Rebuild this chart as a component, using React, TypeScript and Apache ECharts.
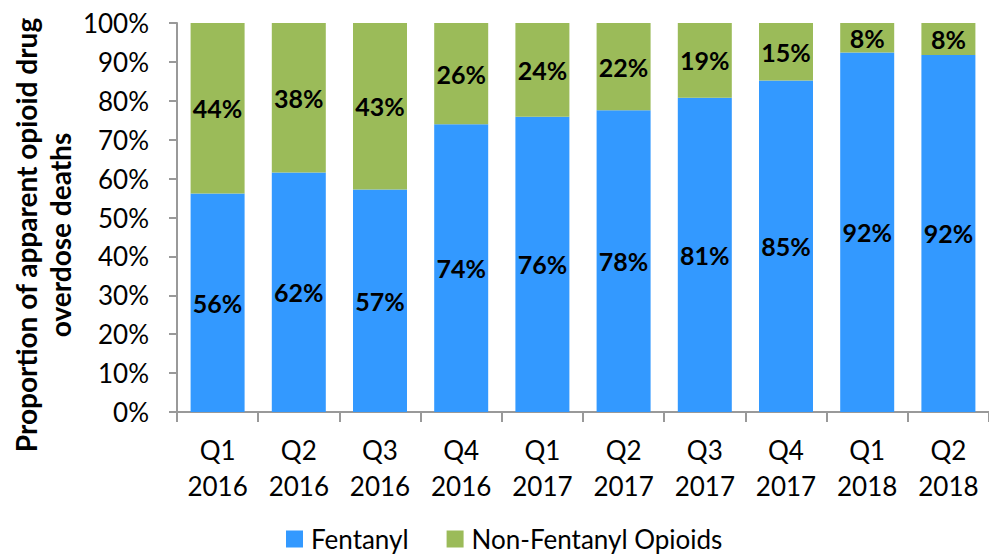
import React, { useEffect, useRef } from "react";
import * as echarts from "echarts";

const categories = [
  "Q1\n2016", "Q2\n2016", "Q3\n2016", "Q4\n2016", "Q1\n2017",
  "Q2\n2017", "Q3\n2017", "Q4\n2017", "Q1\n2018", "Q2\n2018",
];
const fentanyl = [56.2, 61.6, 57.2, 74.0, 75.9, 77.6, 80.8, 85.2, 92.4, 91.8];
const nonFentanyl = [43.8, 38.4, 42.8, 26.0, 24.1, 22.4, 19.2, 14.8, 7.6, 8.2];
const seriesNames = ["Fentanyl", "Non-Fentanyl Opioids"];
const yTitle = "Proportion of apparent opioid drug\noverdose deaths";

const FONT = "Lato, 'Noto Sans', sans-serif";

export default function App() {
  const ref = useRef<HTMLDivElement>(null);
  useEffect(() => {
    if (!ref.current) return;
    const chart = echarts.init(ref.current, undefined, { renderer: "svg" });
    const labelCfg = {
      show: true,
      position: "inside" as const,
      color: "#000",
      fontFamily: FONT,
      fontWeight: "bold" as const,
      fontSize: 25,
      formatter: (p: any) => Math.round(p.value) + "%",
    };
    chart.setOption({
      animation: false,
      textStyle: { fontFamily: FONT },
      grid: { left: 177, top: 23, bottom: 144, right: -8, containLabel: false },
      xAxis: {
        type: "category",
        data: categories,
        axisLine: { lineStyle: { color: "#999", width: 2 } },
        axisTick: { show: true, length: 10, lineStyle: { color: "#999", width: 2 } },
        axisLabel: {
          color: "#000",
          fontFamily: FONT,
          fontSize: 26,
          lineHeight: 36,
          margin: 20,
          interval: 0,
        },
      },
      yAxis: {
        type: "value",
        min: 0,
        max: 100,
        interval: 10,
        splitLine: { show: false },
        axisLine: { show: true, lineStyle: { color: "#999", width: 2 } },
        axisTick: { show: true, length: 8, lineStyle: { color: "#999", width: 2 } },
        axisLabel: {
          color: "#000",
          fontFamily: FONT,
          fontSize: 26,
          margin: 28,
          formatter: (v: number) => v + "%",
        },
      },
      legend: {
        data: seriesNames,
        left: 281,
        top: 521,
        icon: "rect",
        itemWidth: 17,
        itemHeight: 17,
        itemGap: 38,
        textStyle: { color: "#000", fontFamily: FONT, fontSize: 26, padding: [0, 0, 0, 3] },
      },
      graphic: [
        {
          type: "text",
          x: 43,
          y: 235,
          rotation: Math.PI / 2,
          style: {
            text: yTitle,
            fill: "#000",
            font: `bold 28px ${FONT}`,
            lineHeight: 34,
            textAlign: "center",
            textVerticalAlign: "middle",
          },
        },
      ],
      series: [
        {
          name: seriesNames[0],
          type: "bar",
          stack: "total",
          data: fentanyl,
          barWidth: 54,
          itemStyle: { color: "#3399FF" },
          label: labelCfg,
        },
        {
          name: seriesNames[1],
          type: "bar",
          stack: "total",
          data: nonFentanyl,
          barWidth: 54,
          itemStyle: { color: "#9BBB59" },
          label: labelCfg,
        },
      ],
    });
    return () => chart.dispose();
  }, []);
  return (
    <div
      ref={ref}
      style={{ position: "absolute", left: 0, top: 0, width: 989, height: 556 }}
    />
  );
}
